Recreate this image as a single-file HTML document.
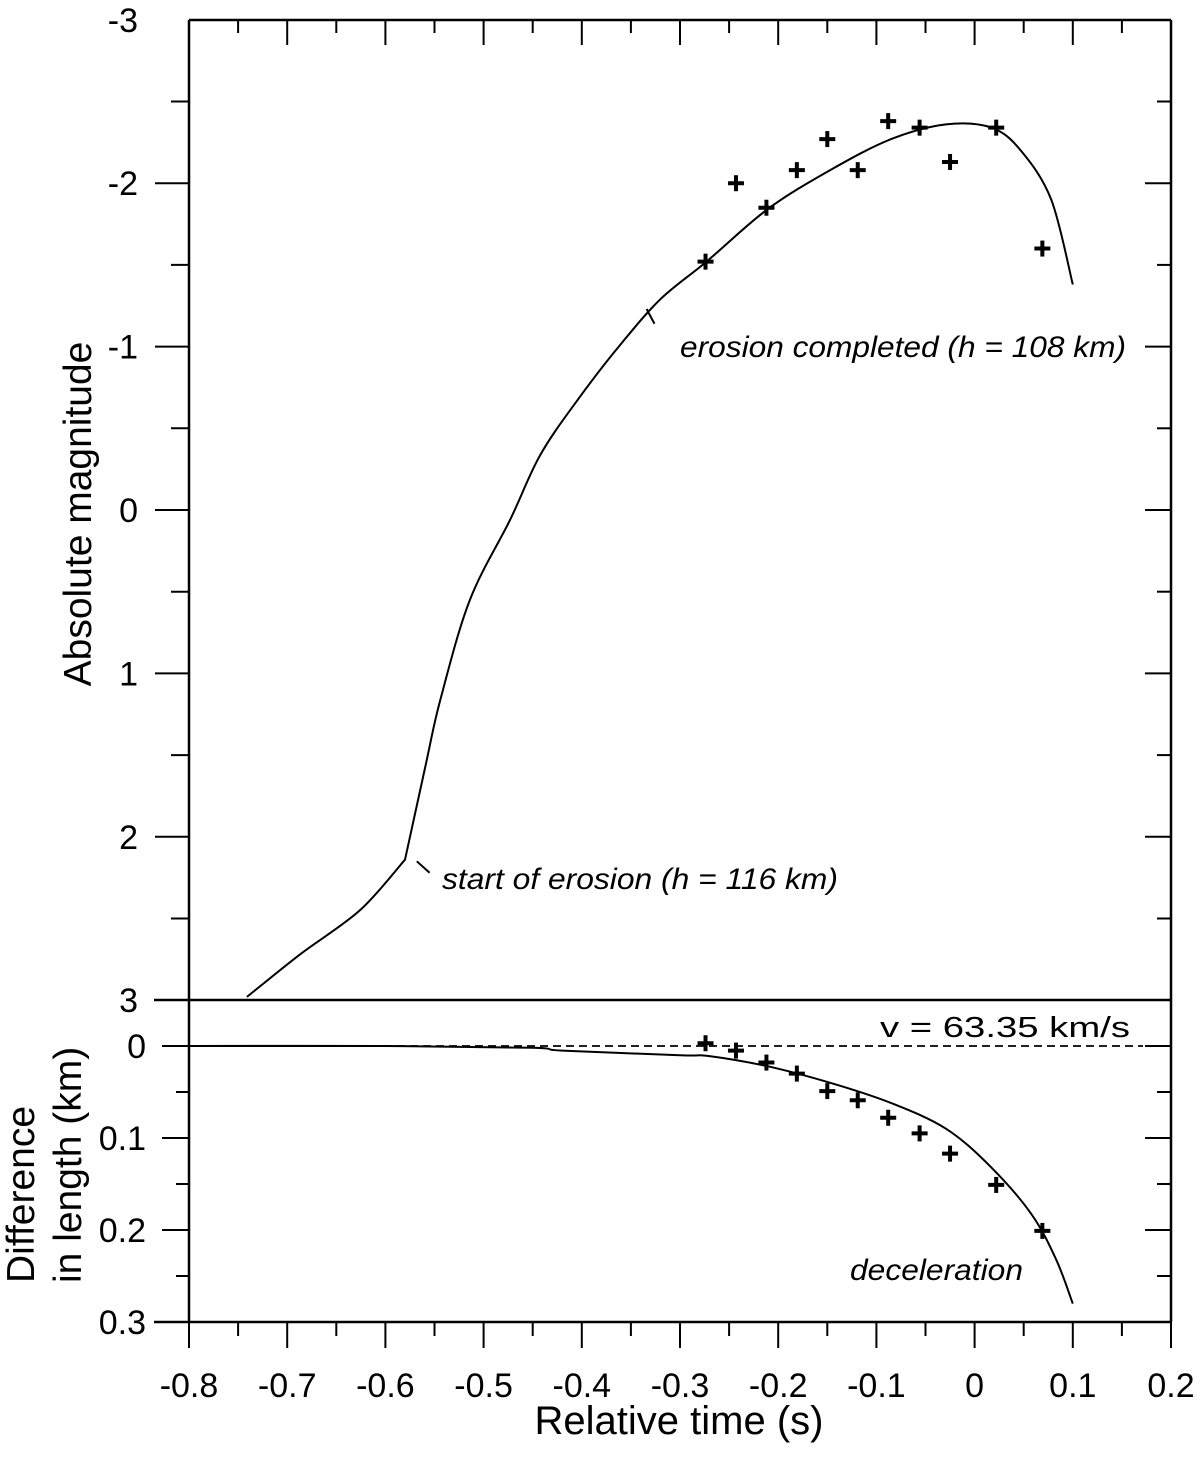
<!DOCTYPE html>
<html><head><meta charset="utf-8"><style>
html,body{margin:0;padding:0;background:#fff}
svg{display:block}
text{font-family:"Liberation Sans",sans-serif;fill:#000}
</style></head><body>
<svg id="chart" width="1200" height="1459" viewBox="0 0 1200 1459" xmlns="http://www.w3.org/2000/svg">
<g id="axes"></g>
<g id="marks"></g>
<text transform="translate(91,514) rotate(-90)" text-anchor="middle" font-size="39">Absolute magnitude</text>
<text transform="translate(34,1283) rotate(-90)" font-size="39">Difference</text>
<text transform="translate(81,1283) rotate(-90)" font-size="39">in length (km)</text>
<text x="679" y="1434" text-anchor="middle" font-size="40">Relative time (s)</text>
<text x="680" y="357" font-size="30" font-style="italic" textLength="446" lengthAdjust="spacingAndGlyphs">erosion completed (h = 108 km)</text>
<text x="442" y="889" font-size="30" font-style="italic" textLength="396" lengthAdjust="spacingAndGlyphs">start of erosion (h = 116 km)</text>
<text x="880" y="1037" font-size="29" textLength="250" lengthAdjust="spacingAndGlyphs">v = 63.35 km/s</text>
<text x="850" y="1280" font-size="30" font-style="italic" textLength="173" lengthAdjust="spacingAndGlyphs">deceleration</text>
</svg>
<script>
// ---- data ----
const magCurveT = [-0.741,-0.687,-0.626,-0.580,-0.559,-0.544,-0.514,-0.473,-0.442,-0.401,-0.361,-0.320,-0.273,-0.211,-0.147,-0.085,-0.029,0.017,0.047,0.078,0.100];
const magCurveM = [2.98,2.72,2.45,2.14,1.56,1.16,0.55,0.06,-0.34,-0.70,-1.01,-1.29,-1.52,-1.84,-2.08,-2.27,-2.36,-2.34,-2.20,-1.90,-1.38];
const obsT = [-0.274,-0.243,-0.212,-0.181,-0.150,-0.119,-0.088,-0.056,-0.025,0.022,0.069];
const obsMag = [-1.52,-2.00,-1.85,-2.08,-2.27,-2.08,-2.38,-2.34,-2.13,-2.34,-1.60];
const obsLen = [-0.003,0.005,0.018,0.030,0.049,0.059,0.078,0.095,0.117,0.151,0.201];
const lenCurveT = [-0.8,-0.6,-0.45,-0.42,-0.3,-0.27,-0.211,-0.147,-0.085,-0.029,0.017,0.058,0.083,0.100];
const lenCurveD = [0,0,0.002,0.005,0.010,0.011,0.022,0.040,0.062,0.090,0.132,0.183,0.232,0.280];
const xTicks = [-0.8,-0.7,-0.6,-0.5,-0.4,-0.3,-0.2,-0.1,0,0.1,0.2];
const xTickLabels = ["-0.8","-0.7","-0.6","-0.5","-0.4","-0.3","-0.2","-0.1","0","0.1","0.2"];
const magTicks = [-3,-2,-1,0,1,2,3];
const magTickLabels = ["-3","-2","-1","0","1","2","3"];
const lenTicks = [0,0.1,0.2,0.3];
const lenTickLabels = ["0","0.1","0.2","0.3"];

// ---- scales ----
const X0=189, X1=1171;
const xs = t => X0 + (t+0.8)*(X1-X0)/1.0;
const ym = m => 510 + m*163.4;
const yd = d => 1046 + d*920;
const NS="http://www.w3.org/2000/svg";
const axes=document.getElementById('axes'), marks=document.getElementById('marks');
function mk(tag,parent){const e=document.createElementNS(NS,tag);parent.appendChild(e);return e;}
function line(p,x1,y1,x2,y2,w,dash){const l=mk('line',p);l.setAttribute('x1',x1);l.setAttribute('y1',y1);l.setAttribute('x2',x2);l.setAttribute('y2',y2);l.setAttribute('stroke','#000');l.setAttribute('stroke-width',w||2);if(dash)l.setAttribute('stroke-dasharray',dash);return l;}
function txt(p,x,y,s,anchor,size){const t=mk('text',p);t.setAttribute('x',x);t.setAttribute('y',y);t.setAttribute('text-anchor',anchor);t.setAttribute('font-size',size);t.textContent=s;return t;}

let f;
f=line(axes,X0,20,X1,20,2.5);


f=line(axes,X0,20,X0,1322,2.5);


f=line(axes,X1,20,X1,1322,2.5);


f=line(axes,154,1322,X1,1322,2.5);


f=line(axes,154,1000,X1,1000,2.5);



for(let i=0;i<xTicks.length;i++){
  const x=xs(xTicks[i]);
  line(axes,x,20,x,45,2);
  line(axes,x,1322,x,1348,2);
  const t=txt(axes,x,1397,xTickLabels[i],'middle',34);
  
  
  if(i<xTicks.length-1){const xm=xs(xTicks[i]+0.05);line(axes,xm,20,xm,33,2);line(axes,xm,1322,xm,1336,2);}
}
for(let i=0;i<magTicks.length;i++){
  const y=ym(magTicks[i]);
  if(i>0&&i<magTicks.length-1){line(axes,155,y,X0,y,2);line(axes,X1-26,y,X1,y,2);}
  const t=txt(axes,138,y+12,magTickLabels[i],'end',34);
  
  
  if(i<magTicks.length-1){const yh=ym(magTicks[i]+0.5);line(axes,171,yh,X0,yh,2);line(axes,X1-14,yh,X1,yh,2);}
}
for(let i=0;i<lenTicks.length;i++){
  const y=yd(lenTicks[i]);
  line(axes,162,y,X0,y,2);
  if(i<lenTicks.length-1)line(axes,X1-26,y,X1,y,2);
  const t=txt(axes,146,y+12,lenTickLabels[i],'end',34);
  
  
  if(i<lenTicks.length-1){const yh=yd(lenTicks[i]+0.05);line(axes,176,yh,X0,yh,2);line(axes,X1-14,yh,X1,yh,2);}
}
f=line(axes,162,yd(0),X0+200,yd(0),2);


f=line(marks,X0,yd(0),X1-28,yd(0),1.8,'8,5');



// smooth curve (Catmull-Rom), with a sharp corner at index `corner`
function smooth(ts,vs,sc,corner){
  const P=ts.map((t,i)=>[xs(t),sc(vs[i])]);
  let d='M'+P[0][0].toFixed(1)+','+P[0][1].toFixed(1);
  for(let i=0;i<P.length-1;i++){
    let p0=P[i-1]||P[i], p1=P[i], p2=P[i+1], p3=P[i+2]||P[i+1];
    if(i===corner) p0=p1;
    if(i+1===corner) p3=p2;
    const c1=[p1[0]+(p2[0]-p0[0])/6,p1[1]+(p2[1]-p0[1])/6];
    const c2=[p2[0]-(p3[0]-p1[0])/6,p2[1]-(p3[1]-p1[1])/6];
    d+=' C'+c1.map(v=>v.toFixed(1)).join(',')+' '+c2.map(v=>v.toFixed(1)).join(',')+' '+p2[0].toFixed(1)+','+p2[1].toFixed(1);
  }
  const p=mk('path',marks);
  p.setAttribute('d',d);
  p.setAttribute('fill','none');p.setAttribute('stroke','#000');p.setAttribute('stroke-width','2');
  return p;
}
let c=smooth(magCurveT,magCurveM,ym,3);


c=smooth(lenCurveT,lenCurveD,yd,-1);



f=line(marks,xs(-0.568),ym(2.15),xs(-0.555),ym(2.22),2);


f=line(marks,xs(-0.334),ym(-1.23),xs(-0.326),ym(-1.14),2);



function cross(x,y,name){
  const g=mk('g',marks);
  
  
  line(g,x-8,y,x+8,y,4);line(g,x,y-8,x,y+8,4);
}
for(let i=0;i<obsT.length;i++){
  cross(xs(obsT[i]),ym(obsMag[i]),'magnitude-point');
  cross(xs(obsT[i]),yd(obsLen[i]),'length-point');
}
</script>
</body></html>
